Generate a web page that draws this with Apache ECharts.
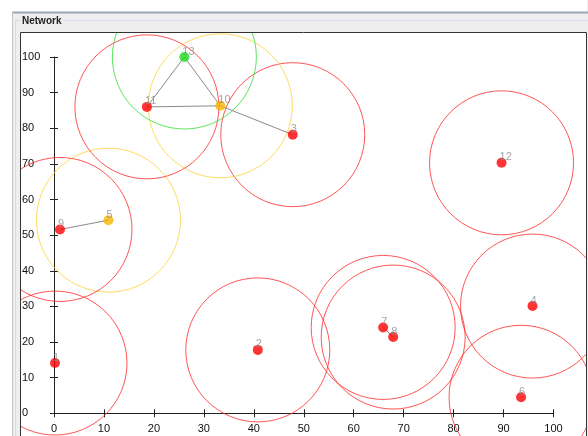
<!DOCTYPE html>
<html>
<head>
<meta charset="utf-8">
<script src="https://cdn.jsdelivr.net/npm/echarts@6/dist/echarts.min.js"></script>
<style>
  html, body { margin: 0; padding: 0; background: #fff; }
  #demo { width: 588px; height: 436px; }
</style>
</head>
<body>
<div id="demo"></div>
<script>
  // node data
  const nodeIds = ['1', '2', '3', '4', '5', '6', '7', '8', '9', '10', '11', '12', '13'];
  const nodeX = [0.2, 40.8, 47.8, 95.8, 10.9, 93.5, 65.9, 67.9, 1.2, 33.3, 18.6, 89.6, 26.1];
  const nodeY = [14.1, 17.8, 78.2, 30.1, 54.2, 4.5, 24.1, 21.4, 51.6, 86.3, 86.0, 70.3, 100];
  const nodeState = ['bad', 'bad', 'bad', 'bad', 'warn', 'bad', 'bad', 'bad', 'bad', 'warn', 'bad', 'bad', 'ok'];
  const links = [['13', '11'], ['13', '10'], ['11', '10'], ['10', '3'], ['9', '5'], ['7', '8']];
  const axisTicks = [0, 10, 20, 30, 40, 50, 60, 70, 80, 90, 100];

  const dotColor = { bad: '#ff0000', warn: '#f7b500', ok: '#1fd81f' };
  const ringColor = { bad: '#ff2a2a', warn: '#ffd23a', ok: '#33e033' };

  const myChart = echarts.init(document.getElementById('demo'));

  const pos = (id) => {
    const i = nodeIds.indexOf(id);
    return [nodeX[i], nodeY[i]];
  };

  const rings = nodeIds.map((id, i) => ({
    value: [nodeX[i], nodeY[i]],
    itemStyle: { borderColor: ringColor[nodeState[i]] }
  }));
  const dots = nodeIds.map((id, i) => ({
    name: id,
    value: [nodeX[i], nodeY[i]],
    itemStyle: { color: dotColor[nodeState[i]] }
  }));
  const edges = links.map(l => ({ coords: [pos(l[0]), pos(l[1])] }));

  const axisFont = { color: '#111', fontSize: 11, fontFamily: 'Liberation Sans, Arial, sans-serif' };

  const option = {
    animation: false,
    backgroundColor: '#fff',
    grid: { left: 54, right: 34.5, top: 57, bottom: 22.7 },
    xAxis: [
      {
        type: 'value', min: axisTicks[0], max: axisTicks[axisTicks.length - 1], interval: 10,
        position: 'bottom',
        axisLine: { show: true, onZero: false, lineStyle: { color: '#222', width: 1 } },
        axisTick: { show: true, length: 4, lineStyle: { color: '#222' } },
        axisLabel: Object.assign({ margin: 10 }, axisFont),
        splitLine: { show: false }
      },
      {
        type: 'value', min: 0, max: 100, interval: 10,
        position: 'bottom',
        axisLine: { show: false },
        axisTick: { show: true, inside: true, length: 4, lineStyle: { color: '#222' } },
        axisLabel: { show: false },
        splitLine: { show: false }
      }
    ],
    yAxis: [
      {
        type: 'value', min: axisTicks[0], max: axisTicks[axisTicks.length - 1], interval: 10,
        position: 'left',
        axisLine: { show: true, onZero: false, lineStyle: { color: '#222', width: 1 } },
        axisTick: { show: true, length: 4, lineStyle: { color: '#222' } },
        axisLabel: Object.assign({ margin: 32, align: 'left' }, axisFont),
        splitLine: { show: false }
      },
      {
        type: 'value', min: 0, max: 100, interval: 10,
        position: 'left',
        axisLine: { show: false },
        axisTick: { show: true, inside: true, length: 4, lineStyle: { color: '#222' } },
        axisLabel: { show: false },
        splitLine: { show: false }
      }
    ],
    series: [
      {
        // range rings
        type: 'scatter',
        z: 2,
        clip: false,
        silent: true,
        symbol: 'circle',
        symbolSize: 144,
        itemStyle: { color: 'rgba(0,0,0,0)', borderWidth: 1 },
        emphasis: { disabled: true },
        data: rings
      },
      {
        type: 'lines',
        coordinateSystem: 'cartesian2d',
        z: 3,
        silent: true,
        lineStyle: { color: '#8a8a8a', width: 1, opacity: 1 },
        data: edges
      },
      {
        type: 'scatter',
        z: 4,
        clip: false,
        silent: true,
        symbol: 'circle',
        symbolSize: 10,
        emphasis: { disabled: true },
        label: {
          show: true,
          formatter: '{b}',
          position: [3, 5],
          align: 'left',
          verticalAlign: 'bottom',
          color: '#8c8c8c',
          fontSize: 11,
          fontFamily: 'Liberation Sans, Arial, sans-serif'
        },
        data: dots
      }
    ],
    graphic: {
      elements: [
        // window chrome over the outside of the plot box
        { type: 'rect', z: 100, shape: { x: 0, y: 0, width: 588, height: 32 }, style: { fill: '#fff' } },
        { type: 'rect', z: 100, shape: { x: 0, y: 0, width: 20, height: 436 }, style: { fill: '#fff' } },
        { type: 'rect', z: 100, shape: { x: 587, y: 0, width: 1, height: 436 }, style: { fill: '#eeeeee' } },
        { type: 'rect', z: 101, shape: { x: 12, y: 12, width: 576, height: 20 }, style: { fill: '#eeeeee' } },
        { type: 'rect', z: 101, shape: { x: 12, y: 12, width: 8, height: 424 }, style: { fill: '#eeeeee' } },
        { type: 'line', z: 102, shape: { x1: 12, y1: 12.5, x2: 588, y2: 12.5 }, style: { stroke: '#98a8ba', lineWidth: 2 } },
        { type: 'line', z: 102, shape: { x1: 12.5, y1: 12, x2: 12.5, y2: 436 }, style: { stroke: '#c4c4c4', lineWidth: 1 } },
        { type: 'line', z: 102, shape: { x1: 15, y1: 20.5, x2: 588, y2: 20.5 }, style: { stroke: '#d2dce8', lineWidth: 1 } },
        { type: 'line', z: 102, shape: { x1: 15.5, y1: 20, x2: 15.5, y2: 436 }, style: { stroke: '#d2dce8', lineWidth: 1 } },
        { type: 'rect', z: 102, shape: { x: 20.5, y: 32.5, width: 566, height: 410 }, style: { fill: null, stroke: '#333', lineWidth: 1 } },
        {
          type: 'text', z: 103, x: 20, y: 21,
          style: {
            text: 'Network', fill: '#222', fontSize: 10, fontWeight: 'bold',
            fontFamily: 'Liberation Sans, Arial, sans-serif',
            verticalAlign: 'middle', backgroundColor: '#eeeeee', padding: [1, 2]
          }
        }
      ]
    }
  };

  option && myChart.setOption(option);
</script>
</body>
</html>
